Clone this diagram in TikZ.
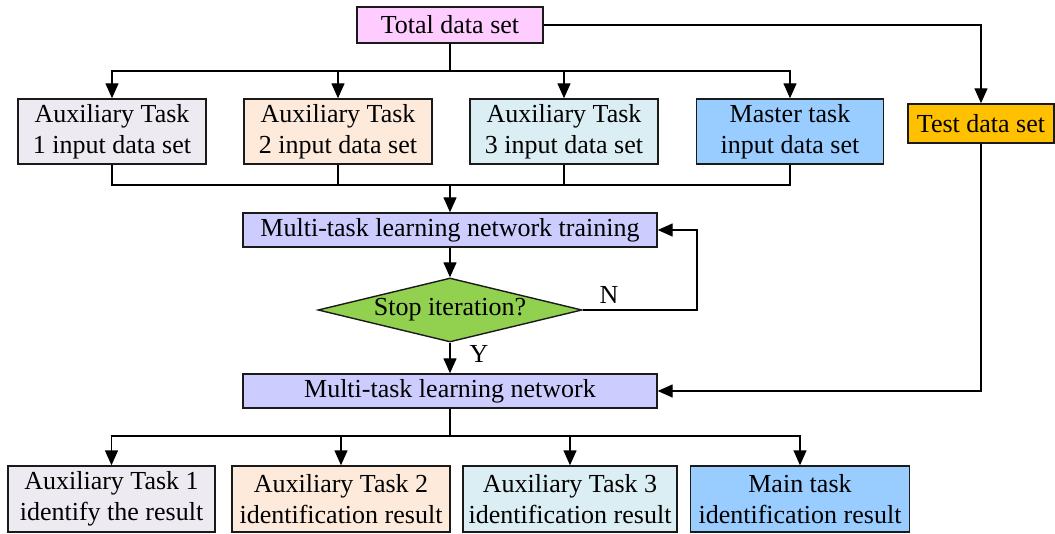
\documentclass[tikz,border=0pt]{standalone}
\usepackage{fontspec}
\setmainfont{Liberation Serif}
\usetikzlibrary{arrows.meta,shapes.geometric}
\definecolor{cTotal}{HTML}{FFCCFF}
\definecolor{cAuxA}{HTML}{EDEAF2}
\definecolor{cAuxB}{HTML}{FDEADA}
\definecolor{cAuxC}{HTML}{DBEEF4}
\definecolor{cMaster}{HTML}{99CCFF}
\definecolor{cTest}{HTML}{FFC000}
\definecolor{cNet}{HTML}{CCCCFF}
\definecolor{cDia}{HTML}{92D050}
\definecolor{cEdge}{HTML}{1A1A1A}
\begin{document}
\begin{tikzpicture}[x=1pt,y=-1pt,
  box/.style={draw=cEdge,line width=1.4pt,inner sep=0pt,align=center,
    font=\fontsize{26}{31}\selectfont},
  conn/.style={line width=1.4pt,draw=black},
  arr/.style={conn,-{Triangle[length=15pt,width=13pt]}},
  lbl/.style={font=\fontsize{26}{30}\selectfont}]
\useasboundingbox (0,0) rectangle (1055,534);
% nodes
\node[box,fill=cTotal,minimum width=186pt,minimum height=36pt] (total) at (450,25) {Total data set};
\node[box,fill=cAuxA,minimum width=188pt,minimum height=65pt] (in1) at (112,131.5) {Auxiliary Task\\1 input data set};
\node[box,fill=cAuxB,minimum width=188pt,minimum height=65pt] (in2) at (338,131.5) {Auxiliary Task\\2 input data set};
\node[box,fill=cAuxC,minimum width=188pt,minimum height=65pt] (in3) at (564,131.5) {Auxiliary Task\\3 input data set};
\node[box,fill=cMaster,minimum width=187pt,minimum height=65pt] (in4) at (790,131.5) {Master task\\input data set};
\node[box,fill=cTest,minimum width=146pt,minimum height=39pt] (test) at (981,123.5) {Test data set};
\node[box,fill=cNet,minimum width=414pt,minimum height=34pt] (train) at (450,230) {Multi-task learning network training};
\node[box,shape=diamond,fill=cDia,minimum width=264pt,minimum height=64pt,aspect=4.1] (dia) at (450,310) {Stop iteration?};
\node[box,fill=cNet,minimum width=414pt,minimum height=34pt] (net) at (450,391) {Multi-task learning network};
\node[box,fill=cAuxA,minimum width=207pt,minimum height=66pt] (r1) at (111.5,499) {Auxiliary Task 1\\identify the result};
\node[box,fill=cAuxB,minimum width=218pt,minimum height=66pt] (r2) at (341,499) {Auxiliary Task 2\\identification result};
\node[box,fill=cAuxC,minimum width=214pt,minimum height=66pt] (r3) at (570,499) {Auxiliary Task 3\\identification result};
\node[box,fill=cMaster,minimum width=219pt,minimum height=66pt] (r4) at (800,499) {Main task\\identification result};
% coordinates
\coordinate (split) at (450,71);
\coordinate (merge) at (450,185);
\coordinate (loop) at (697,310);
\coordinate (bot) at (450,436);
% connectors
\draw[conn] (total.south) -- (split);
\draw[arr] (split) -| (in1.north);
\draw[arr] (split) -| (in2.north);
\draw[arr] (split) -| (in3.north);
\draw[arr] (split) -| (in4.north);
\draw[conn] (in1.south) |- (merge);
\draw[conn] (in2.south) |- (merge);
\draw[conn] (in3.south) |- (merge);
\draw[conn] (in4.south) |- (merge);
\draw[arr] (merge) -- (train.north);
\draw[arr] (train.south) -- (dia.north);
\draw[arr] (dia.south) -- (net.north);
\draw[arr] (dia.east) -- (loop) |- (train.east);
\draw[arr] (total.east) -| (test.north);
\draw[arr] (test.south) |- (net.east);
\draw[conn] (net.south) -- (bot);
\draw[arr] (bot) -| (r1.north);
\draw[arr] (bot) -| (r2.north);
\draw[arr] (bot) -| (r3.north);
\draw[arr] (bot) -| (r4.north);
% labels
\node[lbl] (nlab) at (609,295) {N};
\node[lbl] (ylab) at (479,354) {Y};
\end{tikzpicture}
\end{document}
